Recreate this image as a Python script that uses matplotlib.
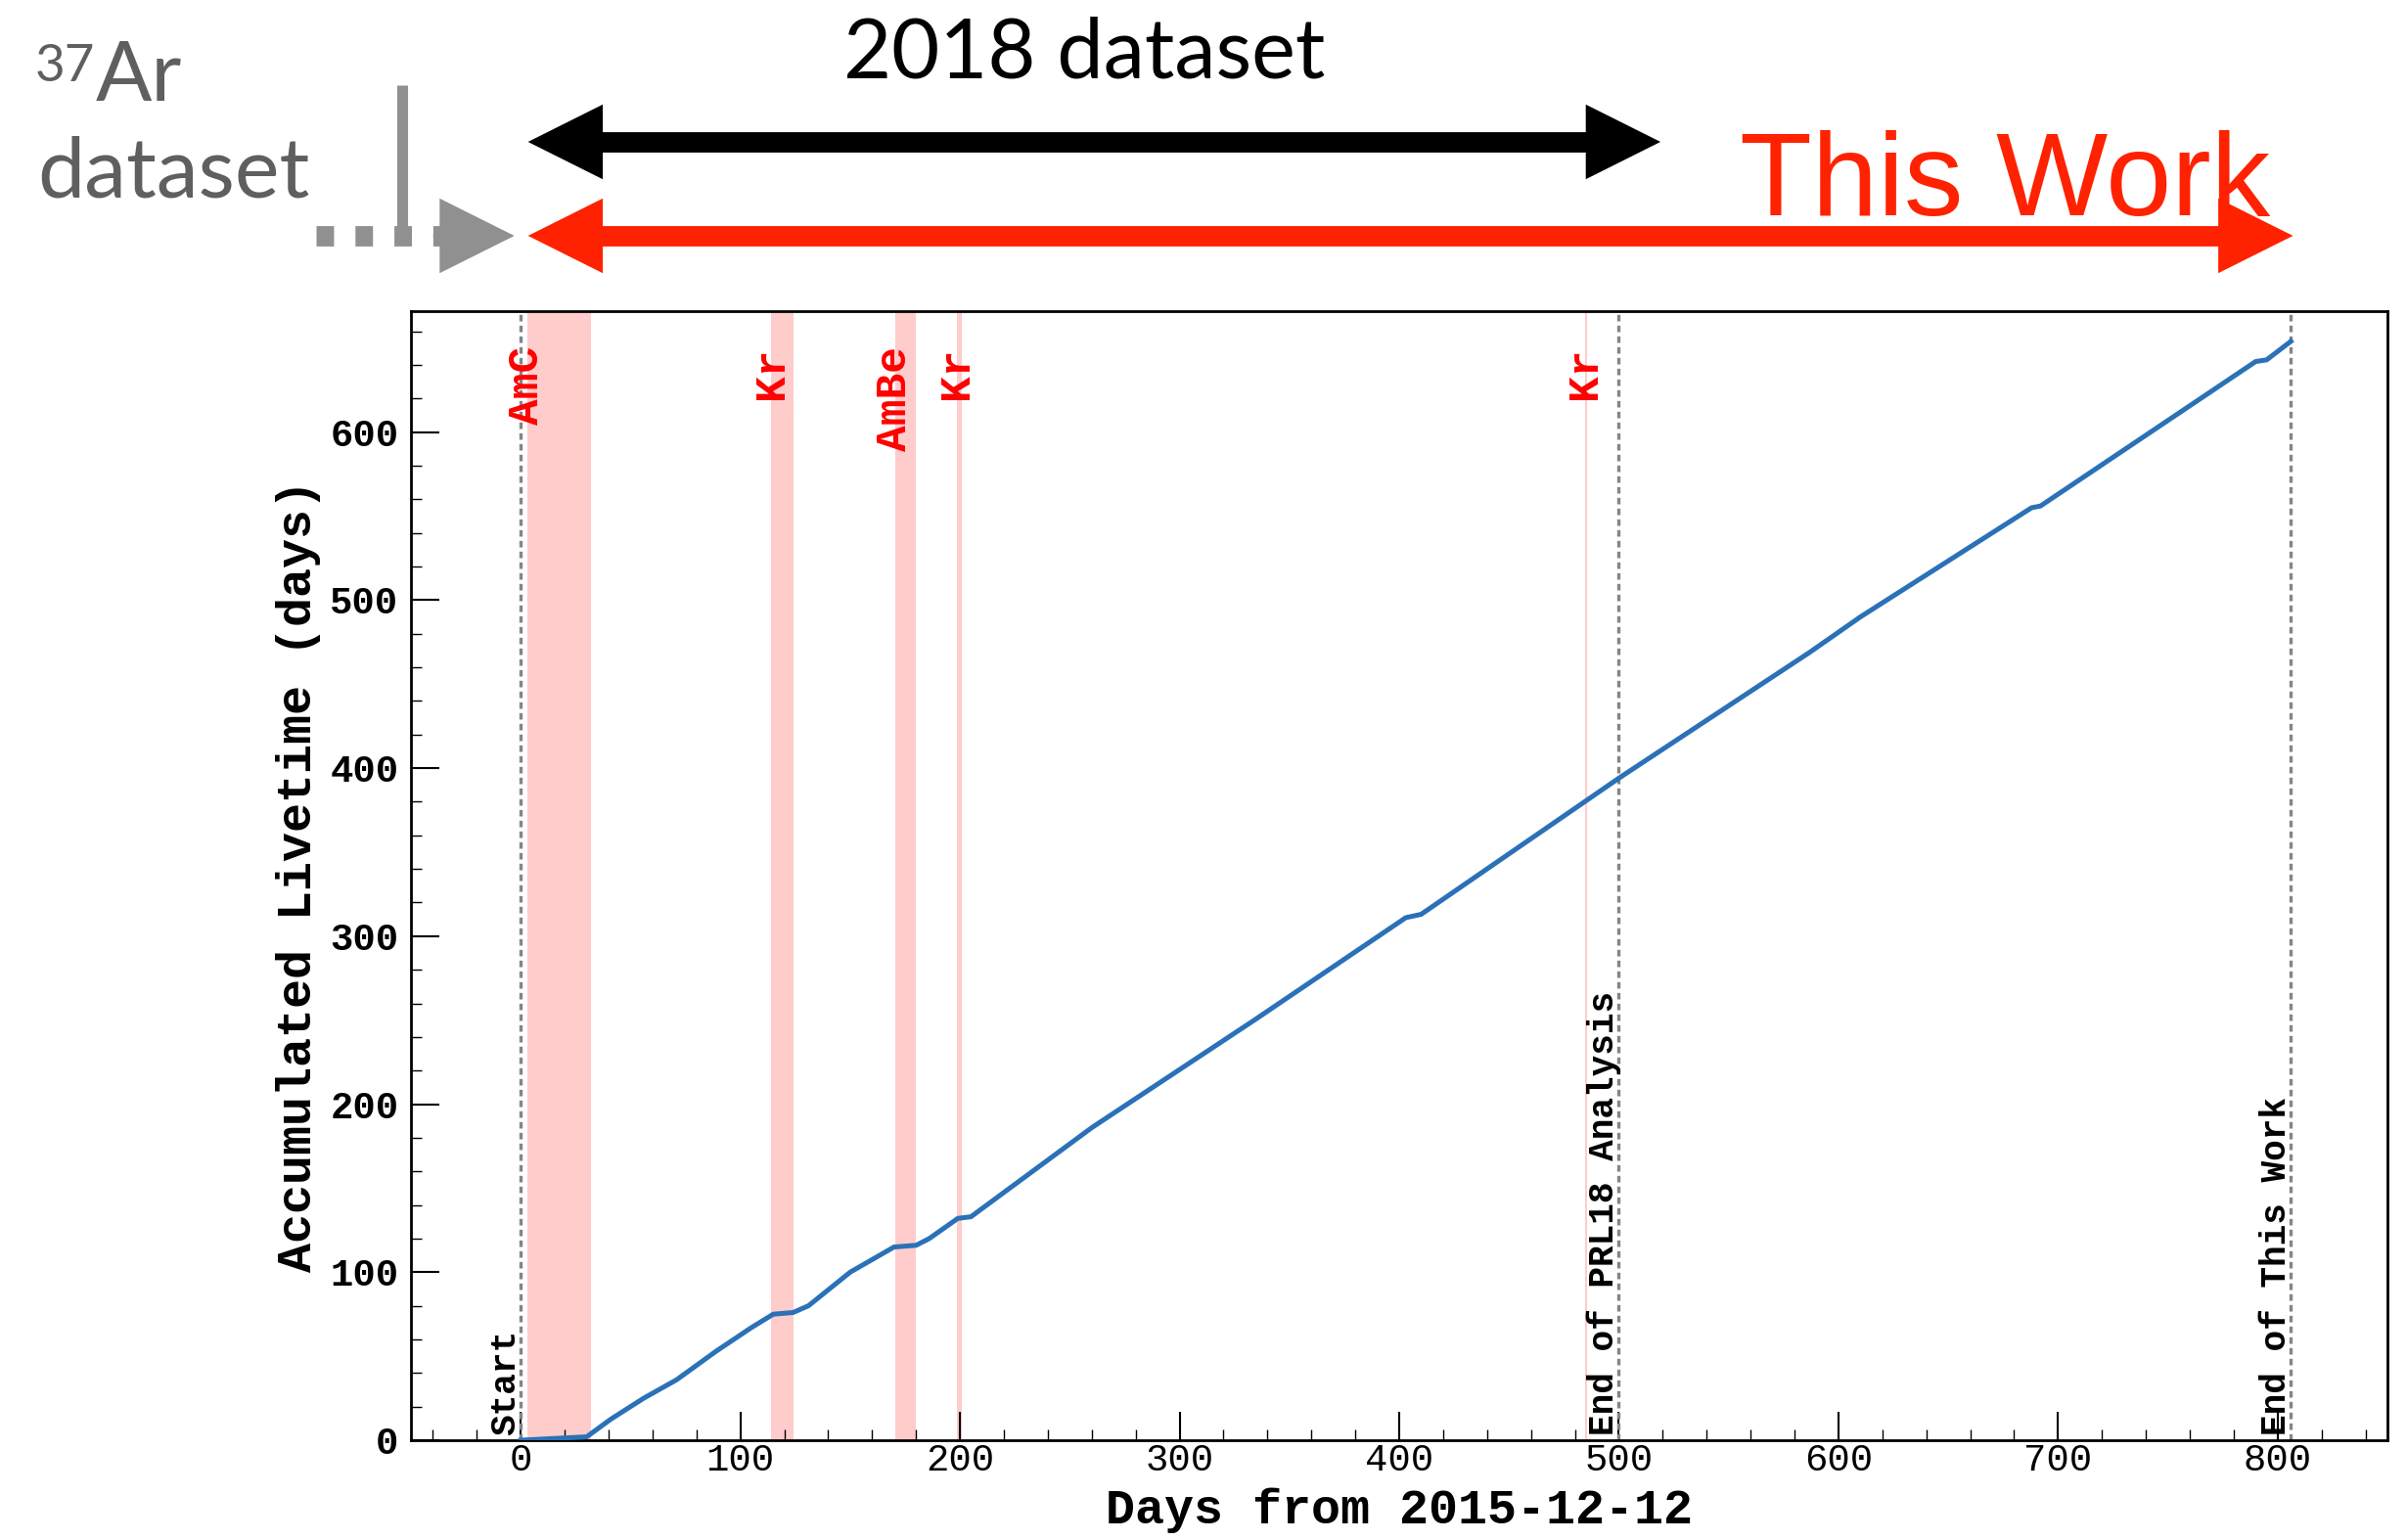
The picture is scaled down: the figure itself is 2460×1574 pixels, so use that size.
import matplotlib.pyplot as plt
from matplotlib.ticker import MultipleLocator

W, H = 2460, 1574

# accumulated livetime (days) against days since 2015-12-12
days = [0, 30, 41, 56, 71, 89, 105, 115, 124, 131, 150, 170, 180, 186, 199, 205,
        260, 334, 403, 410, 500, 587, 610, 688, 692, 790, 795, 806]
livetime = [0, 2, 12.5, 25, 36, 53, 67, 75, 76, 80, 100, 115, 116, 120, 132, 133,
            186, 250, 311, 313, 394, 469, 490, 555, 556, 642, 643, 654]

# calibration campaigns
calib_names = ['AmC', 'Kr', 'AmBe', 'Kr', 'Kr']
calib_start = [3, 114, 170.5, 198.5, 484.6]
calib_end = [32, 124, 180, 200.8, 485.4]

# milestones
mark_days = [0, 500, 806]
mark_names = ['Start', 'End of PRL18 Analysis', 'End of This Work']

# dataset ranges shown above the plot
prl18_range = (3.3, 519)
this_work_range = (3.3, 807)

MONO = 'Liberation Mono'
GRAY = '#909090'

fig = plt.figure(figsize=(W / 100, H / 100), dpi=100, facecolor='white')
ax = fig.add_axes([420 / W, 1 - 1472 / H, 2020 / W, 1154 / H])

ax.plot(days, livetime, color='#2a71b8', lw=3.6, zorder=3)

for name, s, e in zip(calib_names, calib_start, calib_end):
    ax.axvspan(s, e, color='red', alpha=0.2, lw=0)
    ax.text(s, 651, name, rotation=90, rotation_mode='anchor', ha='right',
            va='center', color='red', fontsize=32, family=MONO, weight='bold')

for d, name in zip(mark_days, mark_names):
    ax.axvline(d, color='#858585', lw=2.4, ls=(0, (2, 1.3)))
    ax.text(d - 2.5, 3, name, rotation=90, rotation_mode='anchor', ha='left',
            va='baseline', fontsize=26, family=MONO, weight='bold')

ax.set_xlim(-50, 850)
ax.set_ylim(0, 672)
ax.xaxis.set_major_locator(MultipleLocator(100))
ax.xaxis.set_minor_locator(MultipleLocator(20))
ax.yaxis.set_major_locator(MultipleLocator(100))
ax.yaxis.set_minor_locator(MultipleLocator(20))
ax.tick_params(which='both', direction='in', top=False, right=False)
ax.tick_params(which='major', length=21, width=1.5)
ax.tick_params(which='minor', length=8, width=1)
ax.tick_params(axis='x', pad=2)
ax.tick_params(axis='y', pad=9)
for lab in ax.get_xticklabels():
    lab.set_fontfamily(MONO)
    lab.set_fontsize(28)
for lab in ax.get_yticklabels():
    lab.set_fontfamily(MONO)
    lab.set_fontsize(28)
    lab.set_fontweight('bold')
for sp in ax.spines.values():
    sp.set_linewidth(2)

ax.set_xlabel('Days from 2015-12-12', fontsize=36, family=MONO, weight='bold')
ax.set_ylabel('Accumulated Livetime (days)', fontsize=36, family=MONO, weight='bold')
ax.xaxis.set_label_coords(0.5, -0.0416)
ax.yaxis.set_label_coords(-0.0455, 0.5)

# header strip: x in days, y in pixels from the top of the figure
hdr = fig.add_axes([420 / W, 1 - 318 / H, 2020 / W, 318 / H])
hdr.set_xlim(ax.get_xlim())
hdr.set_ylim(318, 0)
hdr.axis('off')

HEAD = 'simple,head_length=5.5,head_width=5.5,tail_width=0.05'


def arrow_head(tip, y, color, direction):
    hdr.annotate('', xy=(tip, y), xytext=(60 * direction, 0),
                 textcoords='offset points', annotation_clip=False,
                 arrowprops=dict(arrowstyle=HEAD, mutation_scale=10,
                                 fc=color, ec='none', lw=0,
                                 shrinkA=0, shrinkB=0))


def double_arrow(x0, x1, y, color):
    # shaft ends inside the heads
    hdr.plot([x0 + 15, x1 - 15], [y, y], color=color, lw=15,
             solid_capstyle='butt')
    arrow_head(x0, y, color, 1)
    arrow_head(x1, y, color, -1)


double_arrow(*prl18_range, 145, 'black')
double_arrow(*this_work_range, 241, '#ff2200')

# earlier data leading into the start
hdr.plot([-93, -30], [241, 241], color=GRAY, lw=15, dashes=(0.86, 1.05),
         clip_on=False)
hdr.plot([-54, -54], [87, 250], color=GRAY, lw=8, solid_capstyle='butt',
         clip_on=False)
arrow_head(-2.9, 241, GRAY, -1)

fig.text(36 / W, 1 - 83 / H, '37', fontsize=38, family='Lato', color='#5f5f5f',
         va='baseline')
fig.text(98 / W, 1 - 103 / H, 'Ar', fontsize=61, family='Lato', color='#5f5f5f',
         va='baseline')
fig.text(38 / W, 1 - 202 / H, 'dataset', fontsize=62, family='Lato',
         color='#5f5f5f', va='baseline')
fig.text(862 / W, 1 - 80 / H, '2018 dataset', fontsize=61, family='Lato',
         color='black', va='baseline')
fig.text(1778 / W, 1 - 220 / H, 'This Work', fontsize=87,
         family='Liberation Sans', color='#ff2200', va='baseline')

fig.savefig('out.png', dpi=100, facecolor='white')
